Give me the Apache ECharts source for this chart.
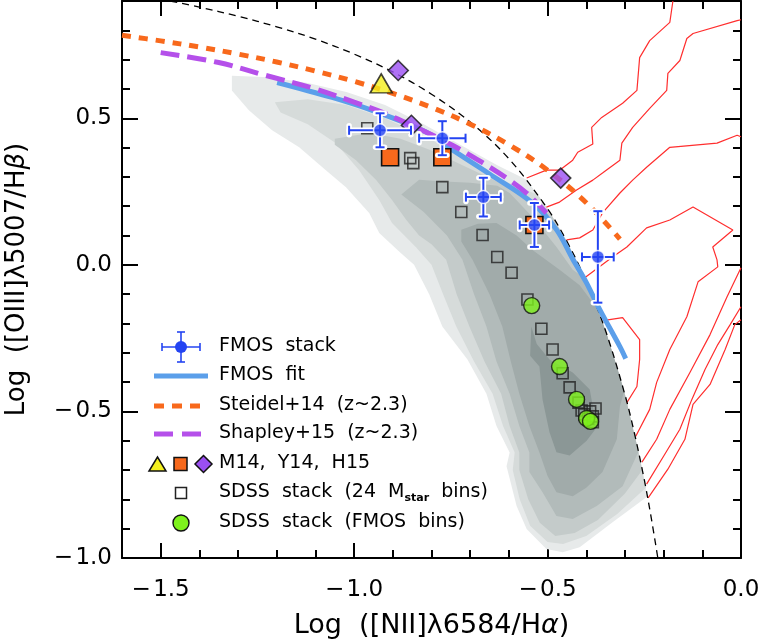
<!DOCTYPE html>
<html>
<head>
<meta charset="utf-8">
<script src="https://cdn.jsdelivr.net/npm/echarts@6/dist/echarts.min.js"></script>
<style>html,body{margin:0;padding:0;background:#fff;}#c{width:761px;height:641px;}</style>
</head>
<body>
<div id="c"></div>
<script>
// ---------- tick values ----------
const xMajor = [-1.5, -1.0, -0.5, 0.0];
const xMinor = [-1.6, -1.4, -1.3, -1.2, -1.1, -0.9, -0.8, -0.7, -0.6, -0.4, -0.3, -0.2, -0.1];
const yMajor = [-1.0, -0.5, 0.0, 0.5];
const yMinor = [-0.9, -0.8, -0.7, -0.6, -0.4, -0.3, -0.2, -0.1, 0.1, 0.2, 0.3, 0.4, 0.6, 0.7, 0.8];

// ---------- FMOS stacks ----------
const fmosX = [-0.933, -0.772, -0.666, -0.534, -0.370];
const fmosY = [0.459, 0.432, 0.231, 0.136, 0.027];
const fmosXErr = [0.080, 0.060, 0.045, 0.038, 0.041];
const fmosYErr = [0.058, 0.058, 0.066, 0.075, 0.156];

// ---------- curves ----------
const fmosFit = [[-1.199,0.622],[-1.057,0.571],[-0.95,0.525],[-0.813,0.452],[-0.746,0.392],[-0.65,0.31],[-0.539,0.211],[-0.477,0.12],[-0.435,0.02],[-0.40,-0.06],[-0.365,-0.153],[-0.313,-0.279],[-0.298,-0.32]];
const steidel = [[-1.6,0.783],[-1.5,0.764],[-1.4,0.743],[-1.3,0.719],[-1.2,0.692],[-1.1,0.661],[-1.0,0.626],[-0.9,0.585],[-0.8,0.537],[-0.7,0.480],[-0.6,0.410],[-0.5,0.323],[-0.4,0.212],[-0.313,0.088]];
const shapley = [[-1.5,0.724],[-1.35,0.69],[-1.228,0.646],[-1.1,0.60],[-1.0,0.555],[-0.927,0.52],[-0.85,0.475],[-0.746,0.408],[-0.67,0.35],[-0.598,0.289],[-0.55,0.24],[-0.503,0.177]];
const kauffmann = [[-1.475,0.9],[-1.4,0.879],[-1.3,0.848],[-1.2,0.812],[-1.1,0.770],[-1.0,0.719],[-0.9,0.658],[-0.8,0.582],[-0.7,0.487],[-0.6,0.362],[-0.5,0.191],[-0.45,0.080],[-0.4,-0.056],[-0.35,-0.225],[-0.3,-0.443],[-0.275,-0.577],[-0.25,-0.733],[-0.232,-0.863],[-0.215,-1.0]];

// ---------- literature points ----------
const m14 = [[-0.930, 0.619]];
const y14 = [[-0.907, 0.367], [-0.772, 0.367], [-0.534, 0.136]];
const h15 = [[-0.886, 0.663], [-0.852, 0.476], [-0.466, 0.296]];

// ---------- SDSS stacks ----------
const sdss24 = [[-0.966,0.466],[-0.855,0.364],[-0.847,0.347],[-0.775,0.375],[-0.772,0.265],[-0.723,0.180],[-0.668,0.102],[-0.630,0.027],[-0.593,-0.027],[-0.552,-0.118],[-0.516,-0.218],[-0.487,-0.289],[-0.461,-0.370],[-0.443,-0.418],[-0.420,-0.470],[-0.412,-0.497],[-0.405,-0.510],[-0.395,-0.525],[-0.376,-0.490],[-0.383,-0.517],[-0.383,-0.537],[-0.390,-0.500]];
const sdssFmos = [[-0.541,-0.139],[-0.469,-0.347],[-0.425,-0.459],[-0.399,-0.524],[-0.389,-0.534]];

// ---------- SDSS star-forming density contours (filled) ----------
const grayL1 = [[-1.316,0.645],[-1.22,0.640],[-1.12,0.620],[-1.02,0.590],[-0.92,0.545],[-0.82,0.480],[-0.72,0.405],[-0.63,0.340],[-0.554,0.290],[-0.50,0.191],[-0.45,0.080],[-0.40,-0.056],[-0.35,-0.225],[-0.30,-0.443],[-0.25,-0.733],[-0.242,-0.790],[-0.332,-0.878],[-0.417,-0.963],[-0.461,-0.980],[-0.503,-0.969],[-0.554,-0.901],[-0.580,-0.823],[-0.606,-0.687],[-0.598,-0.640],[-0.632,-0.550],[-0.658,-0.440],[-0.707,-0.323],[-0.772,-0.210],[-0.806,-0.100],[-0.845,0.000],[-0.883,0.045],[-0.935,0.109],[-0.961,0.177],[-1.021,0.265],[-1.073,0.323],[-1.142,0.401],[-1.212,0.459],[-1.272,0.527],[-1.316,0.595]];
const grayL2 = [[-1.205,0.555],[-1.12,0.565],[-1.02,0.545],[-0.92,0.50],[-0.82,0.44],[-0.72,0.37],[-0.62,0.29],[-0.525,0.239],[-0.50,0.191],[-0.45,0.080],[-0.40,-0.056],[-0.35,-0.225],[-0.30,-0.443],[-0.25,-0.733],[-0.246,-0.760],[-0.32,-0.85],[-0.40,-0.925],[-0.46,-0.952],[-0.50,-0.945],[-0.545,-0.89],[-0.572,-0.80],[-0.59,-0.70],[-0.585,-0.64],[-0.615,-0.55],[-0.642,-0.44],[-0.69,-0.33],[-0.736,-0.21],[-0.77,-0.10],[-0.80,0.0],[-0.84,0.06],[-0.87,0.10],[-0.902,0.143],[-0.935,0.221],[-0.987,0.323],[-1.047,0.415],[-1.12,0.48],[-1.19,0.52]];
const grayL3 = [[-1.05,0.43],[-0.96,0.45],[-0.88,0.43],[-0.80,0.39],[-0.72,0.34],[-0.64,0.29],[-0.58,0.25],[-0.49,0.17],[-0.45,0.080],[-0.40,-0.056],[-0.35,-0.225],[-0.30,-0.443],[-0.265,-0.637],[-0.255,-0.70],[-0.30,-0.78],[-0.37,-0.87],[-0.43,-0.915],[-0.48,-0.925],[-0.52,-0.88],[-0.55,-0.80],[-0.573,-0.70],[-0.573,-0.64],[-0.598,-0.55],[-0.62,-0.44],[-0.663,-0.33],[-0.702,-0.21],[-0.735,-0.10],[-0.762,0.017],[-0.80,0.07],[-0.832,0.10],[-0.865,0.153],[-0.902,0.221],[-0.943,0.289],[-0.995,0.357],[-1.05,0.41]];
const grayL4 = [[-0.878,0.24],[-0.832,0.29],[-0.78,0.285],[-0.70,0.28],[-0.63,0.27],[-0.598,0.245],[-0.539,0.163],[-0.477,0.061],[-0.435,-0.017],[-0.405,-0.045],[-0.40,-0.056],[-0.35,-0.225],[-0.30,-0.443],[-0.27,-0.61],[-0.265,-0.637],[-0.306,-0.755],[-0.373,-0.823],[-0.435,-0.867],[-0.477,-0.857],[-0.513,-0.776],[-0.547,-0.707],[-0.547,-0.64],[-0.573,-0.55],[-0.598,-0.44],[-0.632,-0.33],[-0.658,-0.21],[-0.69,-0.10],[-0.72,0.017],[-0.76,0.10],[-0.82,0.18]];
const grayL5 = [[-0.723,0.12],[-0.68,0.14],[-0.632,0.143],[-0.58,0.10],[-0.539,0.051],[-0.469,-0.017],[-0.417,-0.07],[-0.37,-0.152],[-0.35,-0.225],[-0.32,-0.35],[-0.302,-0.43],[-0.313,-0.483],[-0.321,-0.595],[-0.358,-0.707],[-0.40,-0.76],[-0.435,-0.789],[-0.477,-0.776],[-0.50,-0.72],[-0.521,-0.64],[-0.547,-0.55],[-0.573,-0.44],[-0.595,-0.33],[-0.617,-0.21],[-0.65,-0.10],[-0.694,0.017],[-0.723,0.08]];
const grayL6 = [[-0.545,-0.31],[-0.542,-0.21],[-0.528,-0.27],[-0.495,-0.323],[-0.435,-0.367],[-0.391,-0.425],[-0.383,-0.483],[-0.37,-0.55],[-0.399,-0.60],[-0.443,-0.650],[-0.477,-0.639],[-0.495,-0.571],[-0.513,-0.459],[-0.521,-0.347]];
const grayLevels = [grayL1, grayL2, grayL3, grayL4, grayL5, grayL6];
const grayColors = ['#e7eaea', '#d6dbda', '#c4cbca', '#b2bbba', '#a1abaa', '#8b9796'];

// ---------- SDSS AGN contours (red outlines) ----------
const redA = [[-0.554,0.296],[-0.503,0.323],[-0.469,0.323],[-0.435,0.357],[-0.422,0.384],[-0.383,0.412],[-0.386,0.469],[-0.360,0.503],[-0.306,0.551],[-0.269,0.595],[-0.262,0.707],[-0.236,0.765],[-0.184,0.827],[-0.176,0.90]];
const redB = [[-0.503,0.197],[-0.469,0.214],[-0.425,0.255],[-0.383,0.289],[-0.358,0.313],[-0.313,0.357],[-0.308,0.415],[-0.280,0.469],[-0.236,0.534],[-0.192,0.595],[-0.189,0.653],[-0.158,0.697],[-0.140,0.772],[-0.124,0.789],[-0.010,0.833],[0.0,0.836]];
const redC = [[-0.451,0.085],[-0.417,0.092],[-0.383,0.119],[-0.358,0.177],[-0.313,0.245],[-0.280,0.289],[-0.244,0.333],[-0.184,0.401],[-0.062,0.415],[-0.010,0.442],[0.0,0.437]];
const redD = [[-0.404,-0.044],[-0.332,0.027],[-0.295,0.061],[-0.244,0.126],[-0.184,0.153],[-0.124,0.197],[-0.021,0.119],[-0.073,0.061],[-0.062,0.017],[-0.060,-0.007],[-0.111,-0.058],[-0.140,-0.177],[-0.184,-0.289],[-0.218,-0.401],[-0.236,-0.493],[-0.272,-0.585]];
const redE = [[-0.357,-0.19],[-0.306,-0.180],[-0.262,-0.255],[-0.262,-0.323],[-0.269,-0.415],[-0.295,-0.47]];
const redF = [[-0.256,-0.673],[-0.218,-0.595],[-0.184,-0.493],[-0.132,-0.367],[-0.080,-0.238],[-0.036,-0.109],[0.0,-0.01]];
const redG = [[-0.244,-0.748],[-0.197,-0.646],[-0.158,-0.561],[-0.127,-0.459],[-0.093,-0.357],[-0.060,-0.272],[-0.028,-0.204],[0.0,-0.143]];
const redH = [[-0.240,-0.795],[-0.189,-0.697],[-0.145,-0.595],[-0.124,-0.476],[-0.080,-0.408],[-0.041,-0.289],[-0.016,-0.204],[0.0,-0.187]];
const redContours = [redA, redB, redC, redD, redE, redF, redG, redH];

// ---------- legend labels ----------
const legendLabels = ['FMOS  stack', 'FMOS  fit', 'Steidel+14  (z~2.3)', 'Shapley+15  (z~2.3)', 'M14,  Y14,  H15', 'SDSS  stack  (24  M{s|star}  bins)', 'SDSS  stack  (FMOS  bins)'];

const FONT = '"DejaVu Sans", "Liberation Sans", sans-serif';
const BLUE = '#2444f2';
const FITBLUE = '#5b9fea';
const ORANGE = '#f8691c';
const PURPLE = '#b550ea';
const DIAM = '#9b4ff2';
const YELLOW = '#f4f01e';
const GREEN = '#7ef21c';
const RED = '#ff2e2e';

function fmtTick(v) {
  if (Math.abs(v) < 1e-9) return '0.0';
  return (v < 0 ? '\u2212\u200a' : '') + Math.abs(v).toFixed(1);
}

const lineAxis = { show: true, onZero: false, lineStyle: { color: '#000', width: 2 } };
function xAx(pos, major, labels) {
  return {
    type: 'value', position: pos, min: -1.6, max: 0, gridIndex: 0,
    axisLine: major ? lineAxis : { show: false, onZero: false },
    axisTick: { show: true, inside: true, length: major ? 15 : 8, customValues: major ? xMajor : xMinor, lineStyle: { color: '#000', width: 2 } },
    axisLabel: labels ? { show: true, customValues: xMajor, formatter: fmtTick, fontSize: 23, color: '#000', fontFamily: FONT, margin: 21 } : { show: false },
    splitLine: { show: false },
    name: labels ? 'Log  ([NII]\u03bb6584/H{i|\u03b1})' : '',
    nameLocation: 'middle', nameGap: 54,
    nameTextStyle: { fontSize: 27, color: '#000', fontFamily: FONT, rich: { i: { fontSize: 27, fontStyle: 'italic', fontFamily: FONT, color: '#000' } } }
  };
}
function yAx(pos, major, labels) {
  return {
    type: 'value', position: pos, min: -1.0, max: 0.9, gridIndex: 0,
    axisLine: major ? lineAxis : { show: false, onZero: false },
    axisTick: { show: true, inside: true, length: major ? 16 : 8, customValues: major ? yMajor : yMinor, lineStyle: { color: '#000', width: 2 } },
    axisLabel: labels ? { show: true, customValues: yMajor, formatter: fmtTick, fontSize: 23, color: '#000', fontFamily: FONT, margin: 10 } : { show: false },
    splitLine: { show: false },
    name: labels ? 'Log  ([OIII]\u03bb5007/H{i|\u03b2})' : '',
    nameLocation: 'middle', nameGap: 92, nameRotate: 90,
    nameTextStyle: { fontSize: 26, color: '#000', fontFamily: FONT, rich: { i: { fontSize: 26, fontStyle: 'italic', fontFamily: FONT, color: '#000' } } }
  };
}

const series = [];
// gray filled contours
series.push({
  type: 'custom', xAxisIndex: 0, yAxisIndex: 0, z: 1, silent: true,
  data: grayLevels.map(p => p[0]),
  renderItem: function (params, api) {
    const poly = grayLevels[params.dataIndex].map(p => api.coord(p));
    return { type: 'polygon', shape: { points: poly }, style: { fill: grayColors[params.dataIndex], stroke: null } };
  }
});
// red AGN contours
redContours.forEach(function (c) {
  series.push({ type: 'line', data: c, symbol: 'none', z: 2, lineStyle: { color: RED, width: 1.2 }, silent: true });
});
// Kauffmann demarcation
series.push({ type: 'line', data: kauffmann, smooth: 0.35, symbol: 'none', z: 3, lineStyle: { color: '#000', width: 1.3, type: [7, 5] } });
// FMOS fit
series.push({ type: 'line', data: fmosFit, smooth: 0.35, symbol: 'none', z: 4, lineStyle: { color: FITBLUE, width: 5 } });
// Shapley
series.push({ type: 'line', data: shapley, smooth: 0.35, symbol: 'none', z: 5, lineStyle: { color: PURPLE, width: 5, type: [19, 8] } });
// Steidel
series.push({ type: 'line', data: steidel, smooth: 0.35, symbol: 'none', z: 6, lineStyle: { color: ORANGE, width: 5, type: [9, 8] } });
// SDSS 24 stack squares
series.push({ type: 'scatter', data: sdss24, symbol: 'rect', symbolSize: 11, z: 7, itemStyle: { color: 'rgba(0,0,0,0)', borderColor: '#222', borderWidth: 1.6 } });
// literature
series.push({ type: 'scatter', data: y14, symbol: 'rect', symbolSize: 17, z: 8, itemStyle: { color: ORANGE, borderColor: '#111', borderWidth: 1.6, opacity: 1 } });
series.push({ type: 'scatter', data: m14, symbol: 'triangle', symbolSize: [22, 19], z: 8, itemStyle: { color: YELLOW, borderColor: '#111', borderWidth: 1.6 } });
series.push({ type: 'scatter', data: h15, symbol: 'diamond', symbolSize: 20, z: 8, itemStyle: { color: DIAM, borderColor: '#111', borderWidth: 1.6 } });
// SDSS FMOS bins
series.push({ type: 'scatter', data: sdssFmos, symbol: 'circle', symbolSize: 16, z: 9, itemStyle: { color: GREEN, borderColor: '#111', borderWidth: 1.4 } });
// FMOS error bars
series.push({
  type: 'custom', z: 10, silent: true,
  data: fmosX.map((x, i) => [x, fmosY[i], fmosXErr[i], fmosYErr[i]]),
  encode: { x: 0, y: 1 },
  renderItem: function (params, api) {
    const x = api.value(0), y = api.value(1), ex = api.value(2), ey = api.value(3);
    const l = api.coord([x - ex, y]), r = api.coord([x + ex, y]);
    const t = api.coord([x, y + ey]), b = api.coord([x, y - ey]);
    const cap = 4.5;
    const segs = [[l, r], [t, b],
      [[l[0], l[1] - cap], [l[0], l[1] + cap]], [[r[0], r[1] - cap], [r[0], r[1] + cap]],
      [[t[0] - cap, t[1]], [t[0] + cap, t[1]]], [[b[0] - cap, b[1]], [b[0] + cap, b[1]]]];
    const children = [];
    segs.forEach(s => children.push({ type: 'line', shape: { x1: s[0][0], y1: s[0][1], x2: s[1][0], y2: s[1][1] }, style: { stroke: '#fff', lineWidth: 5.5, lineCap: 'round' } }));
    segs.forEach(s => children.push({ type: 'line', shape: { x1: s[0][0], y1: s[0][1], x2: s[1][0], y2: s[1][1] }, style: { stroke: BLUE, lineWidth: 2 } }));
    return { type: 'group', children: children };
  }
});
series.push({ type: 'scatter', data: fmosX.map((x, i) => [x, fmosY[i]]), symbol: 'circle', symbolSize: 13, z: 11, itemStyle: { color: BLUE, borderColor: '#fff', borderWidth: 1.5 } });

// ---------- legend (graphic) ----------
const LX = 219, rows = [347, 376, 406, 434, 464, 493, 523];
const g = [];
legendLabels.forEach(function (t, i) {
  g.push({ type: 'text', left: LX, top: rows[i] - 10, z: 100, style: { text: t, font: '19px ' + FONT, fill: '#000',
    rich: { s: { fontSize: 11, fontWeight: 'bold', fontFamily: FONT, fill: '#000', padding: [12, 0, 0, 0] } } } });
});
function seg(x1, y1, x2, y2, stroke, w, dash) { return { type: 'line', z: 100, shape: { x1: x1, y1: y1, x2: x2, y2: y2 }, style: { stroke: stroke, lineWidth: w, lineDash: dash || null } }; }
g.push(seg(162, rows[0], 200, rows[0], BLUE, 1.6));
g.push(seg(181, rows[0] - 15, 181, rows[0] + 15, BLUE, 1.6));
g.push(seg(162, rows[0] - 4, 162, rows[0] + 4, BLUE, 1.6));
g.push(seg(200, rows[0] - 4, 200, rows[0] + 4, BLUE, 1.6));
g.push(seg(177, rows[0] - 15, 185, rows[0] - 15, BLUE, 1.6));
g.push(seg(177, rows[0] + 15, 185, rows[0] + 15, BLUE, 1.6));
g.push({ type: 'circle', z: 101, shape: { cx: 181, cy: rows[0], r: 6 }, style: { fill: BLUE } });
g.push(seg(154, rows[1], 208, rows[1], FITBLUE, 5));
g.push(seg(154, rows[2], 201, rows[2], ORANGE, 5, [10, 8]));
g.push(seg(154, rows[3], 201, rows[3], PURPLE, 5, [19, 9]));
g.push({ type: 'polygon', z: 100, shape: { points: [[149, rows[4] + 7], [166, rows[4] + 7], [157.5, rows[4] - 7]] }, style: { fill: YELLOW, stroke: '#111', lineWidth: 1.5 } });
g.push({ type: 'rect', z: 100, shape: { x: 174, y: rows[4] - 6.5, width: 13, height: 13 }, style: { fill: ORANGE, stroke: '#111', lineWidth: 1.5 } });
g.push({ type: 'polygon', z: 100, shape: { points: [[203.5, rows[4] - 8.5], [212, rows[4]], [203.5, rows[4] + 8.5], [195, rows[4]]] }, style: { fill: DIAM, stroke: '#111', lineWidth: 1.5 } });
g.push({ type: 'rect', z: 100, shape: { x: 175.5, y: rows[5] - 5.5, width: 11, height: 11 }, style: { fill: '#fff', stroke: '#222', lineWidth: 1.5 } });
g.push({ type: 'circle', z: 100, shape: { cx: 181, cy: rows[6], r: 8 }, style: { fill: GREEN, stroke: '#111', lineWidth: 1.4 } });

const chart = echarts.init(document.getElementById('c'), null, { renderer: 'canvas' });
chart.setOption({
  backgroundColor: '#fff',
  animation: false,
  grid: { left: 122, right: 20, top: 1, bottom: 83, containLabel: false, outerBoundsMode: 'none' },
  xAxis: [xAx('bottom', true, true), xAx('bottom', false, false), xAx('top', true, false), xAx('top', false, false)],
  yAxis: [yAx('left', true, true), yAx('left', false, false), yAx('right', true, false), yAx('right', false, false)],
  series: series,
  graphic: g
});
</script>
</body>
</html>
